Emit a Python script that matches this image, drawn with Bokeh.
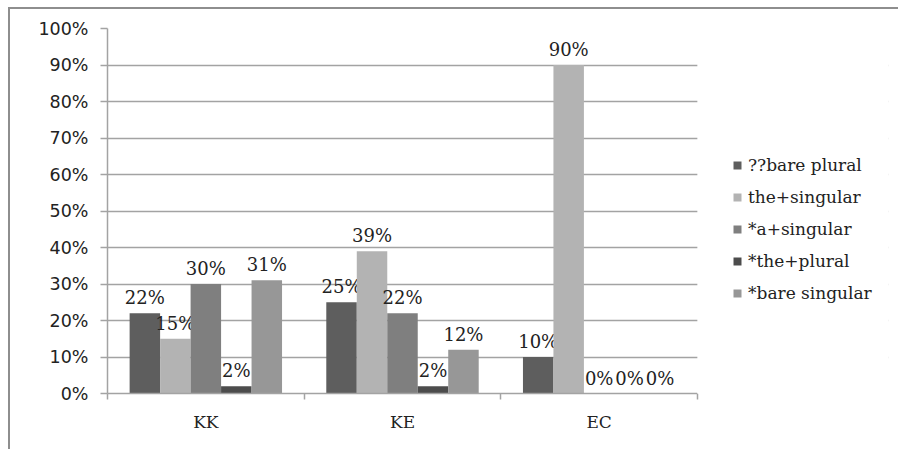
from bokeh.plotting import figure
from bokeh.models import (ColumnDataSource, FixedTicker, LinearAxis, NumeralTickFormatter,
                          Legend, LegendItem, Range1d, BoxAnnotation)
from bokeh.layouts import column
from bokeh.embed import file_html
from bokeh.resources import INLINE
from bokeh.core.properties import value

categories = ["KK", "KE", "EC"]
series_names = ["??bare plural", "the+singular", "*a+singular", "*the+plural", "*bare singular"]
bare_plural = [0.22, 0.25, 0.10]
the_singular = [0.15, 0.39, 0.90]
a_singular = [0.30, 0.22, 0.00]
the_plural = [0.02, 0.02, 0.00]
bare_singular = [0.31, 0.12, 0.00]
series_values = [bare_plural, the_singular, a_singular, the_plural, bare_singular]
colors = ["#5e5e5e", "#b3b3b3", "#7f7f7f", "#4c4c4c", "#979797"]
y_ticks = [0.0, 0.1, 0.2, 0.3, 0.4, 0.5, 0.6, 0.7, 0.8, 0.9, 1.0]

GRID = "#a3a3a3"
TXT = "#222222"

n = len(categories)
plot_w = 590            # pixel width of the category area
frame_w = 888 - 97 - 10  # full frame width (includes legend area)
x_end = n * frame_w / plot_w

p = figure(width=888, height=440, output_backend="svg", toolbar_location=None,
           x_range=Range1d(0, x_end), y_range=Range1d(0, 1),
           x_axis_location=None, y_axis_location=None,
           min_border_left=97, min_border_right=10, min_border_top=19, min_border_bottom=56)
p.outline_line_color = None
p.xgrid.visible = False
p.ygrid.ticker = FixedTicker(ticks=y_ticks)
p.ygrid.grid_line_color = GRID
p.ygrid.grid_line_width = 1.5

yaxis = LinearAxis(ticker=FixedTicker(ticks=y_ticks), formatter=NumeralTickFormatter(format="0%"))
yaxis.axis_line_color = GRID
yaxis.axis_line_width = 1.5
yaxis.major_tick_line_color = GRID
yaxis.major_tick_line_width = 1.5
yaxis.major_tick_in = 0
yaxis.major_tick_out = 7
yaxis.minor_tick_line_color = None
yaxis.major_label_text_font = "DejaVu Sans"
yaxis.major_label_text_font_size = "17.5px"
yaxis.major_label_text_color = TXT
yaxis.major_label_standoff = 12
p.add_layout(yaxis, "left")

centers = [i + 0.5 for i in range(n)]
boundaries = [float(i) for i in range(n + 1)]
xaxis = LinearAxis(ticker=FixedTicker(ticks=centers, minor_ticks=boundaries),
                   major_label_overrides={c: cat for c, cat in zip(centers, categories)},
                   bounds=(0, n))
xaxis.axis_line_color = GRID
xaxis.axis_line_width = 1.5
xaxis.major_tick_line_color = None
xaxis.major_tick_in = 0
xaxis.major_tick_out = 6
xaxis.minor_tick_line_color = GRID
xaxis.minor_tick_line_width = 1.5
xaxis.minor_tick_in = 0
xaxis.minor_tick_out = 6
xaxis.major_label_text_font = "DejaVu Serif"
xaxis.major_label_text_font_size = "17px"
xaxis.major_label_text_color = TXT
xaxis.major_label_standoff = 12
p.add_layout(xaxis, "below")

# blank out the grid to the right of the category area (legend area)
p.add_layout(BoxAnnotation(left=n, right=x_end * 1.05, top=1.05, bottom=-0.05,
                           fill_color="white", fill_alpha=1, line_color="white"))

bw = 0.155
items = []
for j, (name, vals, col) in enumerate(zip(series_names, series_values, colors)):
    xs = [c + (j - 2) * bw for c in centers]
    src = ColumnDataSource(dict(x=xs, top=vals, label=[f"{round(v * 100)}%" for v in vals]))
    r = p.vbar(x="x", top="top", bottom=0, width=bw, source=src, fill_color=col, line_color=None)
    p.text(x="x", y="top", text="label", source=src, text_align="center", text_baseline="bottom",
           y_offset=-5, text_font=value("DejaVu Serif"), text_font_size="18px", text_color=TXT)
    items.append(LegendItem(label=name, renderers=[r]))

legend = Legend(items=items, location=(625, 90))
legend.margin = 0
legend.padding = 0
legend.border_line_color = None
legend.background_fill_alpha = 0
legend.glyph_width = 10
legend.glyph_height = 10
legend.label_standoff = 6
legend.spacing = 12
legend.label_text_font = "DejaVu Serif"
legend.label_text_font_size = "17px"
legend.label_text_color = TXT
p.add_layout(legend)

layout = column(p, margin=(7, 0, 0, 8),
                styles={"border-top": "2px solid #8e8e8e", "border-left": "2px solid #8e8e8e"})

open("out.html", "w").write(file_html(layout, INLINE))
